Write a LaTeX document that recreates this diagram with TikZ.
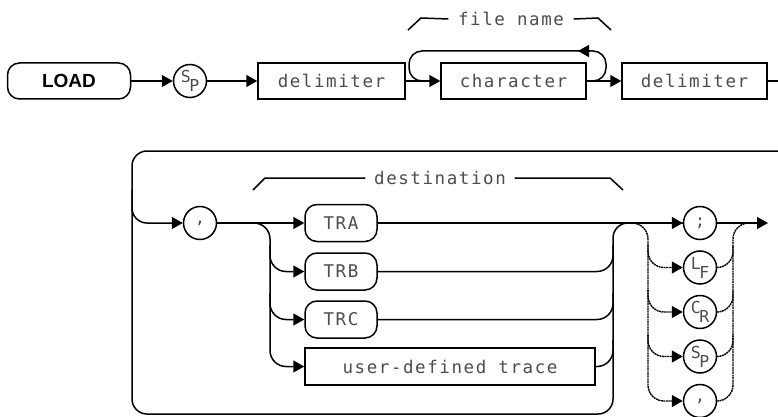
\documentclass[tikz,border=0pt]{standalone}
\usepackage{fontspec}
\usetikzlibrary{arrows.meta}
\newfontfamily\plotfont{DejaVu Sans Mono}[LetterSpace=9]
\newfontfamily\keyfont{Liberation Sans}
\tikzset{every picture/.style={line width=1.5pt}}

% letter with a lowered second letter, as in S_P
\newcommand{\lowpair}[2]{#1\kern-1.5pt\raisebox{-9pt}{#2}}

\begin{document}
\begin{tikzpicture}[x=1pt, y=-1pt, >={Triangle[length=11pt,width=12pt]},
    every node/.style={font=\plotfont\fontsize{17.5}{19}\selectfont, text=black!70},
    keyword/.style={draw, rounded corners=12pt, minimum height=36pt, inner sep=0pt},
    nonterm/.style={draw, rectangle, minimum height=36pt, inner sep=0pt},
    literal/.style={draw, circle, minimum size=33pt, inner sep=0pt, font=\plotfont\fontsize{16.5}{16.5}\selectfont},
    bracelabel/.style={inner xsep=9pt, inner ysep=0pt},
    alt/.style={dash pattern=on 2pt off 0.6pt, line width=1.4pt}]
    \useasboundingbox (0,0) rectangle (778,417);
    % first row
    \node[keyword, minimum width=123pt, font=\keyfont\bfseries\fontsize{19}{19}\selectfont, text=black] (load) at (69,81) {LOAD};
    \node[literal] (sp) at (190,81) {\lowpair{S}{P}};
    \node[nonterm, minimum width=147pt] (delimA) at (331.5,81) {delimiter};
    \node[nonterm, minimum width=145pt] (char) at (513.5,81) {character};
    \node[nonterm, minimum width=145pt] (delimB) at (694.5,81) {delimiter};
    \node[bracelabel] (fname) at (511,19) {file name};
    \draw[->] (load) -- (sp);
    \draw[->] (sp) -- (delimA);
    \draw[->] (delimA) -- (char);
    \draw[->] (char) -- (delimB);
    \draw (delimB) -- (778,81);
    % repeat loop over character
    \draw[->, rounded corners=13pt] ([xshift=7pt]char.east) -| (606,51) -- (578,51);
    \draw[rounded corners=13pt] (590,51) -| (409,81) -- ([xshift=-18pt]char.west);
    \draw (408,30) -- (421,18) -- (fname.west);
    \draw (fname.east) -- (598,18) -- (611,30);
    % second row
    \node[literal] (comma) at (200,223) {,};
    \node[keyword, minimum width=72pt, minimum height=37pt] (tra) at (341,223) {TRA};
    \node[keyword, minimum width=72pt, minimum height=37pt] (trb) at (341,271.5) {TRB};
    \node[keyword, minimum width=72pt, minimum height=37pt] (trc) at (341,319.5) {TRC};
    \node[nonterm, minimum width=290pt, minimum height=37pt] (user) at (450,366.5) {user-defined trace};
    \node[bracelabel, inner xsep=8pt] (dest) at (440,178) {destination};
    \node[literal] (semi) at (700,223) {;};
    \node[literal] (lf) at (700,267.5) {\lowpair{L}{F}};
    \node[literal] (cr) at (700,312) {\lowpair{C}{R}};
    \node[literal] (spb) at (700,356.5) {\lowpair{S}{P}};
    \node[literal] (commab) at (700,401) {,};
    \draw (253,190) -- (265,178) -- (dest.west);
    \draw (dest.east) -- (610,178) -- (623,190);
    % wrap from first row and bypass
    \draw[rounded corners=15pt] (778,151) -| (132,414) -| (613,223) -- (semi);
    \draw[->, rounded corners=15pt] (132,190) |- (comma);
    \draw[->] (comma) -- (tra);
    \draw[->] (tra) -- (semi);
    % destination choices
    \draw[->, rounded corners=16pt] (252,223) -| (270,300) |- (user);
    \draw[->, rounded corners=16pt] (270,245) |- (trb);
    \draw[->, rounded corners=16pt] (270,293) |- (trc);
    \draw[rounded corners=16pt] (trb) -| (613,245);
    \draw[rounded corners=16pt] (trc) -| (613,293);
    \draw[rounded corners=16pt] (user) -| (613,340);
    % terminator choices
    \draw[->, alt, rounded corners=16pt] (630,223) -| (648,300) |- (commab);
    \draw[->, alt, rounded corners=16pt] (648,245) |- (lf);
    \draw[->, alt, rounded corners=16pt] (648,290) |- (cr);
    \draw[->, alt, rounded corners=16pt] (648,335) |- (spb);
    \draw[alt, rounded corners=16pt] (lf) -| (733,245);
    \draw[alt, rounded corners=16pt] (cr) -| (733,290);
    \draw[alt, rounded corners=16pt] (spb) -| (733,335);
    \draw[alt, rounded corners=16pt] (commab) -| (733,223) -- (750,223);
    \draw[->] (semi) -- (768,223);
\end{tikzpicture}
\end{document}
